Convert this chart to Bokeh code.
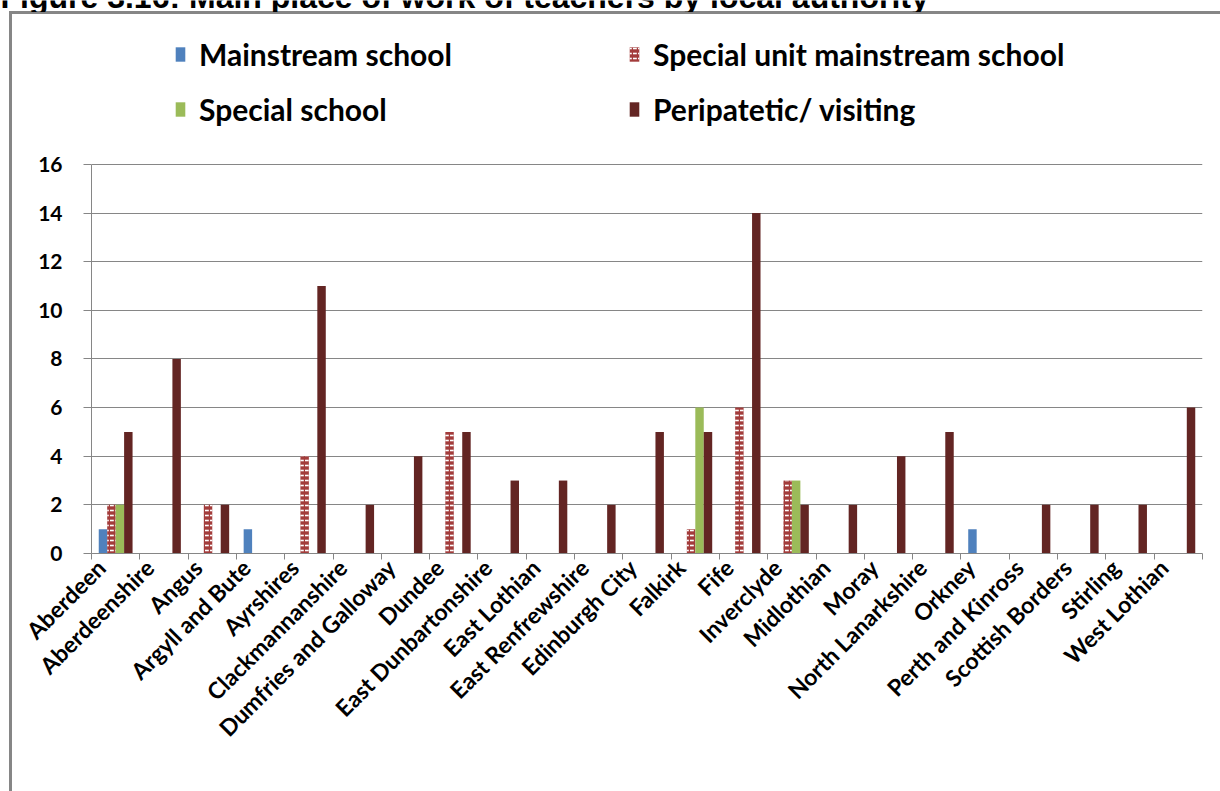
from bokeh.plotting import figure
from bokeh.layouts import column
from bokeh.models import Range1d, FixedTicker, Legend, LegendItem, Label, CustomJSTickFormatter
from bokeh.embed import file_html
from bokeh.resources import INLINE

authorities = ["Aberdeen", "Aberdeenshire", "Angus", "Argyll and Bute", "Ayrshires",
               "Clackmannanshire", "Dumfries and Galloway", "Dundee", "East Dunbartonshire",
               "East Lothian", "East Renfrewshire", "Edinburgh City", "Falkirk", "Fife",
               "Inverclyde", "Midlothian", "Moray", "North Lanarkshire", "Orkney",
               "Perth and Kinross", "Scottish Borders", "Stirling", "West Lothian"]
mainstream = [1, 0, 0, 1, 0, 0, 0, 0, 0, 0, 0, 0, 0, 0, 0, 0, 0, 0, 1, 0, 0, 0, 0]
special_unit = [2, 0, 2, 0, 4, 0, 0, 5, 0, 0, 0, 0, 1, 6, 3, 0, 0, 0, 0, 0, 0, 0, 0]
special_school = [2, 0, 0, 0, 0, 0, 0, 0, 0, 0, 0, 0, 6, 0, 3, 0, 0, 0, 0, 0, 0, 0, 0]
peripatetic = [5, 8, 2, 0, 11, 2, 4, 5, 3, 3, 2, 5, 5, 14, 2, 2, 4, 5, 0, 2, 2, 2, 6]
y_ticks = [0, 2, 4, 6, 8, 10, 12, 14, 16]
title_text = "Figure 3.16: Main place of work of teachers by local authority"

GRAY = "#868686"
FONT = "Lato"

# ---- thin strip at the top holding the (cut off) figure title ----
# the column aligns its frame with the chart's frame, so the strip is nudged left
# by the chart's left border to let the title start at the page edge
top = figure(width=1220, height=12, output_backend="svg", toolbar_location=None,
             x_range=Range1d(0, 1220), y_range=Range1d(0, 12),
             x_axis_location=None, y_axis_location=None,
             min_border_left=0, min_border_right=0, min_border_top=0, min_border_bottom=0)
top.grid.grid_line_color = None
top.outline_line_color = None
top.background_fill_color = None
top.border_fill_color = None
top.styles = {
    "position": "relative",
    "left": "-91px",
    "background": ("linear-gradient(#868686,#868686) 100px 11px / 3px 1px no-repeat, "
                   "linear-gradient(#868686,#868686) 100px 11px / 1300px 1px no-repeat"),
}
top.add_layout(Label(x=0, y=16, text=title_text, text_font="Liberation Sans",
                     text_font_style="bold", text_font_size="32px", text_color="black",
                     text_baseline="alphabetic"))

# ---- main chart; its frame reaches the top of the canvas so the legend inside is not
# clipped, while the value axis itself is bounded to 0-16 ----
p = figure(width=1220, height=779, output_backend="svg", toolbar_location=None,
           x_range=Range1d(-0.5, len(authorities) - 0.5), y_range=Range1d(0, 22.25),
           min_border_left=91, min_border_right=18, min_border_top=0, min_border_bottom=238)
p.outline_line_color = None
p.background_fill_color = None
p.border_fill_color = None
# left and top edges of the chart area box, drawn behind the transparent canvas
p.styles = {
    "background": ("linear-gradient(#868686,#868686) 9px 0px / 3px 800px no-repeat, "
                   "linear-gradient(#868686,#868686) 9px 0px / 1300px 2px no-repeat"),
}

xs = list(range(len(authorities)))
w = 0.175
def shifted(d):
    return [x + d for x in xs]

r1 = p.vbar(x=shifted(-0.2625), top=mainstream, width=w, fill_color="#4F81BD", line_color=None)
r2 = p.vbar(x=shifted(-0.0875), top=special_unit, width=w, fill_color="#A33C3B", line_color=None,
            hatch_pattern="horizontal_dash", hatch_color="white", hatch_scale=5, hatch_weight=1.6)
r3 = p.vbar(x=shifted(0.0875), top=special_school, width=w, fill_color="#9BBB59", line_color=None)
r4 = p.vbar(x=shifted(0.2625), top=peripatetic, width=w, fill_color="#632523", line_color=None)

# category axis: labels anchored a little left of each category centre, boundary ticks as minor ticks
LABEL_SHIFT = 0.3
p.xaxis.ticker = FixedTicker(ticks=shifted(-LABEL_SHIFT),
                             minor_ticks=[i - 0.5 for i in range(len(authorities) + 1)])
p.xaxis.formatter = CustomJSTickFormatter(args=dict(names=authorities, shift=LABEL_SHIFT),
                                          code="return names[Math.round(tick + shift)] || '';")
p.xaxis.major_label_orientation = 0.785398
p.xaxis.major_tick_out = 0
p.xaxis.major_tick_in = 0
p.xaxis.minor_tick_out = 6
p.xaxis.minor_tick_in = 0
p.xaxis.minor_tick_line_color = GRAY
p.xaxis.axis_line_color = GRAY
p.xaxis.major_label_text_font = FONT
p.xaxis.major_label_text_font_style = "bold"
p.xaxis.major_label_text_font_size = "23px"
p.xaxis.major_label_text_color = "black"
p.xaxis.major_label_standoff = 4

p.yaxis.ticker = FixedTicker(ticks=y_ticks, minor_ticks=[])
p.yaxis.bounds = (0, 16)
p.yaxis.major_tick_out = 8
p.yaxis.major_tick_in = 0
p.yaxis.major_tick_line_color = GRAY
p.yaxis.axis_line_color = GRAY
p.yaxis.major_label_text_font = FONT
p.yaxis.major_label_text_font_style = "bold"
p.yaxis.major_label_text_font_size = "21px"
p.yaxis.major_label_text_color = "black"
p.yaxis.major_label_standoff = 21

p.xgrid.grid_line_color = None
p.ygrid.grid_line_color = GRAY
p.ygrid.grid_line_width = 1

legend = Legend(items=[LegendItem(label="Mainstream school", renderers=[r1]),
                       LegendItem(label="Special unit mainstream school", renderers=[r2]),
                       LegendItem(label="Special school", renderers=[r3]),
                       LegendItem(label="Peripatetic/ visiting", renderers=[r4])],
                location=(83, 426), orientation="horizontal", ncols=2,
                label_text_font=FONT, label_text_font_style="bold", label_text_font_size="30px",
                label_text_color="black", glyph_width=12, glyph_height=18, label_height=30,
                label_width=410, label_standoff=13, spacing=19, padding=0, margin=0,
                border_line_color=None, background_fill_alpha=0)
p.add_layout(legend, "center")

# the whole page carries the chart-area box edges as well (full width top edge)
page = column(top, p, spacing=0)
page.styles = {
    "background": ("linear-gradient(#868686,#868686) 9px 11px / 1300px 2px no-repeat, "
                   "linear-gradient(#868686,#868686) 9px 11px / 3px 800px no-repeat, white"),
}

open("out.html", "w").write(file_html(page, INLINE))
